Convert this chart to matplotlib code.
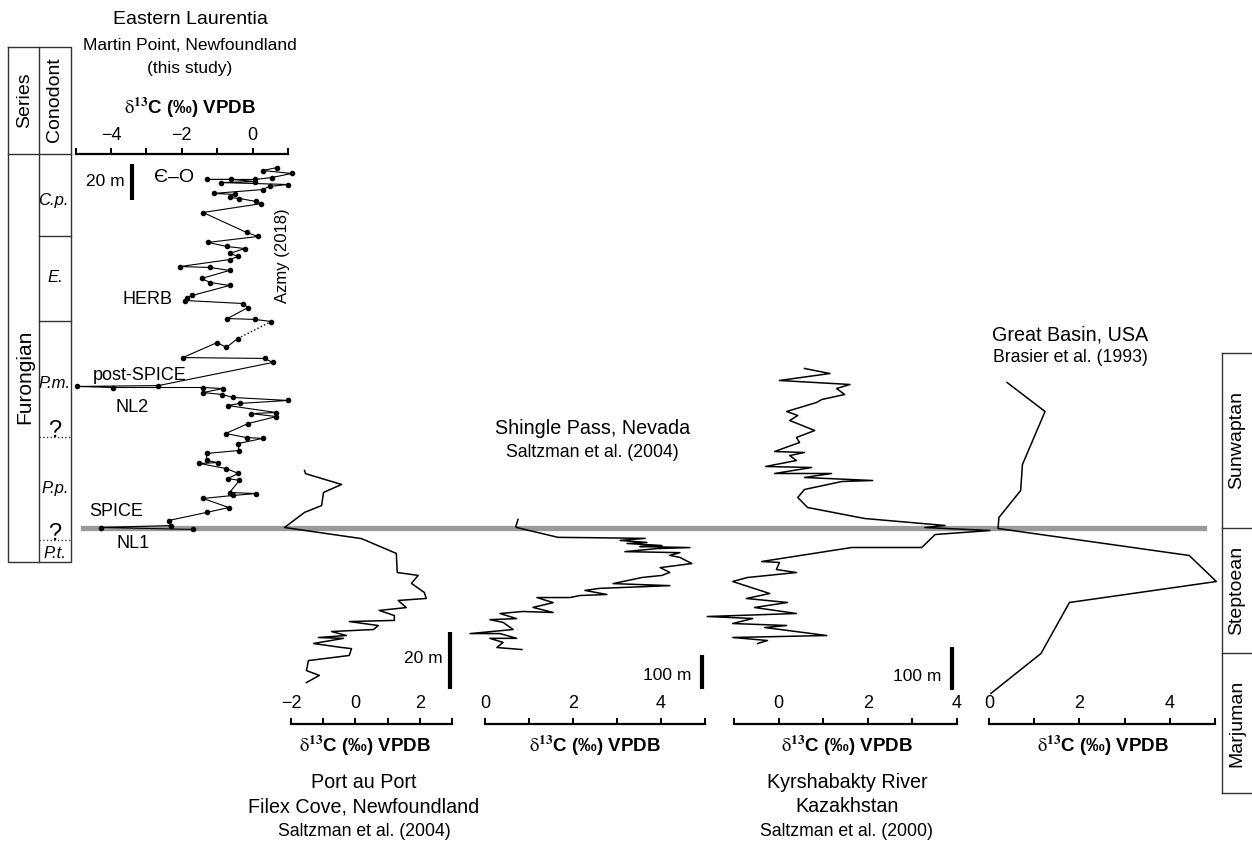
import matplotlib
matplotlib.use('Agg')
import matplotlib.pyplot as plt
from matplotlib.lines import Line2D

plt.rcParams['font.family'] = ['Liberation Sans', 'DejaVu Sans']
plt.rcParams['mathtext.fontset'] = 'stix'

# ---- data: (height in m relative to SPICE onset, d13C permil) ----
mp_height = [-1.1, 0.0, 1.1, 4.0, 8.6, 11.4, 16.6, 18.3, 19.4, 20.0, 26.9, 28.0, 30.9, 33.7,
             36.6, 37.1, 38.3, 42.3, 44.0, 48.0, 50.9, 51.4, 53.7, 59.4, 63.4, 65.1, 65.7,
             69.7, 70.9, 72.6, 74.3, 76.0, 77.1, 79.4, 80.0, 80.0, 80.6, 81.1, 94.3, 96.6,
             97.1, 105.7, 102.9, 108.0,
             117.7, 118.9, 119.4, 125.7, 128.0, 129.7, 131.4, 132.6, 138.3, 140.0, 142.3,
             146.9, 148.6, 149.1, 153.1, 154.9, 156.6, 159.4, 160.6, 162.9, 166.3, 168.6,
             180.0, 185.1, 186.3, 188.0, 188.6, 190.3, 190.9, 193.1, 194.9, 196.0, 197.1,
             197.7, 198.9, 198.9, 198.9, 200.0, 202.3, 204.0, 205.7]
mp_d13c = [-1.69, -4.27, -2.31, -2.37, -1.30, -0.67, -1.40, -0.55, 0.10, -0.65, -0.37, -0.70,
           -0.40, -0.75, -1.50, -0.98, -1.30, -1.30, -0.39, -0.40, 0.28, -0.17, -0.76, -0.13,
           0.67, -0.05, 0.67, -0.70, -0.36, 1.00, -0.56, -0.85, -1.40, -0.84, -1.40, -3.94,
           -4.97, -2.66, 0.57, 0.34, -1.97, -1.00, -0.74, -0.42,
           0.53, 0.06, -0.71, -0.13, -0.27, -1.90, -1.86, -1.70, -0.65, -1.20, -1.44, -0.65,
           -1.20, -2.05, -0.65, -0.40, -0.65, -0.22, -0.73, -1.26, 0.15, -0.17, -1.40, 0.25,
           0.10, -0.37, -0.65, -0.50, -1.10, 0.28, 0.48, 1.00, -0.90, 0.08, -0.60, -1.30,
           0.08, 0.55, 1.10, 0.28, 0.70]
mp_gap = 44  # dotted link between point 43 and 44

pp_height = [20.0, 18.9, 15.1, 12.3, 7.7, 5.3, 0.0, -3.9, -9.1, -15.8, -16.8, -19.6, -22.8,
             -24.9, -25.6, -28.1, -29.1, -30.9, -32.6, -33.0, -34.4, -35.8, -36.5, -37.9,
             -38.6, -38.9, -40.7, -42.1, -42.5, -44.9, -46.7, -50.2, -51.9, -54.4]
pp_d13c = [-1.58, -1.55, -0.43, -0.99, -1.05, -1.58, -2.20, 0.19, 1.27, 1.30, 1.95, 1.74, 2.14,
           2.20, 1.33, 1.58, 0.74, 1.21, 1.21, -0.19, 0.71, 0.56, -0.74, -0.28, -1.15, -0.37,
           -1.30, -0.43, -0.12, -0.19, -1.46, -1.52, -1.12, -1.52]

sp_height = [23.5, 3.0, 0.0, -29, -30, -32, -38, -44, -47, -53, -56, -59, -62, -71, -74, -82,
             -88, -106, -118, -132, -141, -147, -165, -171, -179, -185, -197, -200, -206, -206,
             -221, -235, -250, -247, -253, -268, -271, -279, -300, -312, -312, -326, -326,
             -338, -353, -359]
sp_d13c = [0.75, 0.70, 0.72, 1.66, 2.43, 3.64, 3.07, 3.68, 3.23, 4.02, 3.52, 4.66, 3.91, 3.18,
           4.43, 4.20, 4.43, 4.70, 3.98, 4.20, 4.02, 3.57, 2.91, 4.20, 2.61, 2.27, 2.77, 2.16,
           1.93, 1.18, 1.55, 1.09, 1.55, 0.86, 0.34, 0.72, 0.11, 0.41, 0.64, -0.34, 0.34, 0.72,
           0.11, 0.41, 0.27, 0.84]

kr_height = [369.8, 358.1, 341.9, 332.6, 323.3, 309.3, 297.7, 290.7, 269.8, 260.5, 248.8,
             225.6, 209.3, 197.7, 176.7, 174.4, 167.4, 155.8, 141.9, 139.5, 125.6, 125.6,
             116.3, 109.3, 107.0, 88.4, 69.8, 46.5, 20.9, 4.7, 0.0, -7.0, -16.3, -46.5, -46.5,
             -79.1, -81.4, -97.7, -104.7, -116.3, -125.6, -153.5, -165.1, -174.4, -186.0,
             -200.0, -207.0, -211.6, -223.3, -227.9, -232.6, -251.2, -255.8, -262.8, -269.8]
kr_d13c = [0.58, 1.15, 0.02, 1.60, 1.30, 1.48, 0.97, 0.85, 0.18, 0.43, 0.25, 0.81, 0.40, 0.47,
           -0.09, 0.58, 0.25, 0.40, -0.29, 0.74, -0.09, 1.19, 0.58, 2.11, 1.42, 0.58, 0.43,
           0.65, 1.93, 3.73, 3.28, 4.74, 3.51, 3.21, 1.64, -0.38, 0.02, -0.05, 0.40, -0.70,
           -1.03, -0.20, -0.72, 0.20, -0.54, 0.40, -1.60, -0.58, -1.03, 0.18, -0.31, 1.08,
           -1.03, -0.25, -0.47]

gb_height = [337.2, 269.8, 146.5, 86.0, 23.3, -2.3, -65.1, -125.6, -174.4, -293.0, -386.0]
gb_d13c = [0.40, 1.24, 0.74, 0.70, 0.22, 0.20, 4.43, 5.03, 1.78, 1.15, 0.04]

xlabel = r'$\mathrm{\delta}^{\mathbf{13}}$C (‰) VPDB'

# ---- layout (pixels) ----
W, H = 1252, 843
GRAY_Y = 527.5
fig = plt.figure(figsize=(W / 100, H / 100), dpi=100)


def box(x0, x1, y0, y1):
    return [x0 / W, 1 - y1 / H, (x1 - x0) / W, (y1 - y0) / H]


def ftext(x, y, s, **kw):
    kw.setdefault('ha', 'center')
    kw.setdefault('va', 'center')
    fig.text(x / W, 1 - y / H, s, **kw)


def fline(xs, ys, **kw):
    kw.setdefault('color', '#333333')
    kw.setdefault('lw', 1.0)
    fig.add_artist(Line2D([x / W for x in xs], [1 - y / H for y in ys], **kw))


def section(x0, x1, y0, y1, xlim, px_per_m, top=False):
    ax = fig.add_axes(box(x0, x1, y0, y1))
    ax.set_xlim(xlim)
    ax.set_ylim((GRAY_Y - y1) / px_per_m, (GRAY_Y - y0) / px_per_m)
    ax.patch.set_visible(False)
    ax.spines['left'].set_visible(False)
    ax.spines['right'].set_visible(False)
    ax.set_yticks([])
    ax.spines['bottom' if top else 'top'].set_visible(False)
    ax.spines['top' if top else 'bottom'].set_linewidth(1.6)
    if top:
        ax.xaxis.tick_top()
        ax.tick_params(axis='x', direction='out', length=4, width=1.4, pad=3, labelsize=13)
    else:
        ax.tick_params(axis='x', direction='in', length=4, width=1.4, pad=-21, labelsize=13)
    return ax


def scalebar(ax, x, h0, h1, label, lx, ly):
    ax.plot([x, x], [h0, h1], color='black', lw=3, clip_on=False, solid_capstyle='butt')
    ax.text(lx, ly, label, ha='right', va='center', fontsize=12.5)


# gray SPICE-onset line
fline([83, 1204], [GRAY_Y, GRAY_Y], color='#9a9a9a', lw=3.8, zorder=-1)

# Martin Point
ax = section(75.5, 288, 154, 560, (-5, 1), 1.75, top=True)
ax.set_xticks(range(-5, 2))
ax.set_xticklabels(['', '−4', '', '−2', '', '0', ''])
ax.plot(mp_d13c[:mp_gap], mp_height[:mp_gap], '-o', color='black', lw=0.8, ms=3, clip_on=False)
ax.plot(mp_d13c[mp_gap:], mp_height[mp_gap:], '-o', color='black', lw=0.8, ms=3, clip_on=False)
ax.plot(mp_d13c[mp_gap - 1:mp_gap + 1], mp_height[mp_gap - 1:mp_gap + 1], ':', color='black', lw=1)
scalebar(ax, -3.41, 208, 187, '20 m', -3.6, 197.5)
ftext(190, 20, 'Eastern Laurentia', fontsize=14)
ftext(190, 46, 'Martin Point, Newfoundland', fontsize=12.5)
ftext(190, 68, '(this study)', fontsize=12.5)
ftext(190, 108, xlabel, fontsize=13.5, fontweight='bold')
ftext(174, 178, 'Є–O', fontsize=14)
ftext(283, 256, 'Azmy (2018)', fontsize=12, rotation=90)
ftext(148, 300, 'HERB', fontsize=13)
ftext(140, 375, 'post-SPICE', fontsize=13)
ftext(132, 407, 'NL2', fontsize=13)
ftext(116, 512, 'SPICE', fontsize=13)
ftext(133, 544, 'NL1', fontsize=13)

# Port au Port
ax = section(291, 452, 400, 724, (-2, 3), 2.85)
ax.set_xticks(range(-2, 4))
ax.set_xticklabels(['−2', '', '0', '', '2', ''])
ax.plot(pp_d13c, pp_height, color='black', lw=1.1, clip_on=False)
scalebar(ax, 2.95, -36.8, -56.8, '20 m', 2.72, -46)
ftext(365, 746, xlabel, fontsize=13.5, fontweight='bold')
ftext(364, 783, 'Port au Port', fontsize=14.2)
ftext(364, 807, 'Filex Cove, Newfoundland', fontsize=14.2)
ftext(364, 832, 'Saltzman et al. (2004)', fontsize=12.7)

# Shingle Pass
ax = section(485, 705, 400, 724, (0, 5), 0.34)
ax.set_xticks(range(0, 6))
ax.set_xticklabels(['0', '', '2', '', '4', ''])
ax.plot(sp_d13c, sp_height, color='black', lw=1.1, clip_on=False)
scalebar(ax, 4.93, -376, -476, '100 m', 4.70, -435)
ftext(595, 746, xlabel, fontsize=13.5, fontweight='bold')
ftext(593, 428, 'Shingle Pass, Nevada', fontsize=14.2)
ftext(592, 452, 'Saltzman et al. (2004)', fontsize=12.7)

# Kyrshabakty River
ax = section(734, 957, 340, 724, (-1, 4), 0.43)
ax.set_xticks(range(-1, 5))
ax.set_xticklabels(['', '0', '', '2', '', '4'])
ax.plot(kr_d13c, kr_height, color='black', lw=1.1, clip_on=False)
scalebar(ax, 3.89, -279, -379, '100 m', 3.66, -346)
ftext(847, 746, xlabel, fontsize=13.5, fontweight='bold')
ftext(847, 783, 'Kyrshabakty River', fontsize=14.2)
ftext(847, 807, 'Kazakhstan', fontsize=14.2)
ftext(847, 832, 'Saltzman et al. (2000)', fontsize=12.7)

# Great Basin
ax = section(989, 1215, 340, 724, (0, 5), 0.43)
ax.set_xticks(range(0, 6))
ax.set_xticklabels(['0', '', '2', '', '4', ''])
ax.plot(gb_d13c, gb_height, color='black', lw=1.1, clip_on=False)
ftext(1103, 746, xlabel, fontsize=13.5, fontweight='bold')
ftext(1070, 335, 'Great Basin, USA', fontsize=14.2)
ftext(1070, 358, 'Brasier et al. (1993)', fontsize=12.7)

# left chronostratigraphy columns
fline([8, 71, 71, 8, 8], [47, 47, 562, 562, 47])
fline([39, 39], [47, 562])
fline([8, 71], [154, 154])
fline([39, 71], [236, 236])
fline([39, 71], [321, 321])
fline([39, 71], [437, 437], ls=':')
fline([39, 71], [540, 540], ls=':')
ftext(25, 100, 'Series', fontsize=14, rotation=90)
ftext(55, 100, 'Conodont', fontsize=14, rotation=90)
ftext(25, 377, 'Furongian', fontsize=15, rotation=90)
ftext(53, 200, 'C.p.', fontsize=12, style='italic')
ftext(55, 277, 'E.', fontsize=12, style='italic')
ftext(55, 383, 'P.m.', fontsize=12, style='italic')
ftext(55, 431, '?', fontsize=17)
ftext(55, 489, 'P.p.', fontsize=12, style='italic')
ftext(55, 534, '?', fontsize=17)
ftext(55, 553, 'P.t.', fontsize=12, style='italic')

# right stage column
fline([1222, 1222], [353, 793])
for yy in [353, 528, 653, 793]:
    fline([1222, 1252], [yy, yy])
ftext(1237, 440, 'Sunwaptan', fontsize=14, rotation=90)
ftext(1237, 590, 'Steptoean', fontsize=14, rotation=90)
ftext(1237, 723, 'Marjuman', fontsize=14, rotation=90)

fig.savefig('out.png', dpi=100)
